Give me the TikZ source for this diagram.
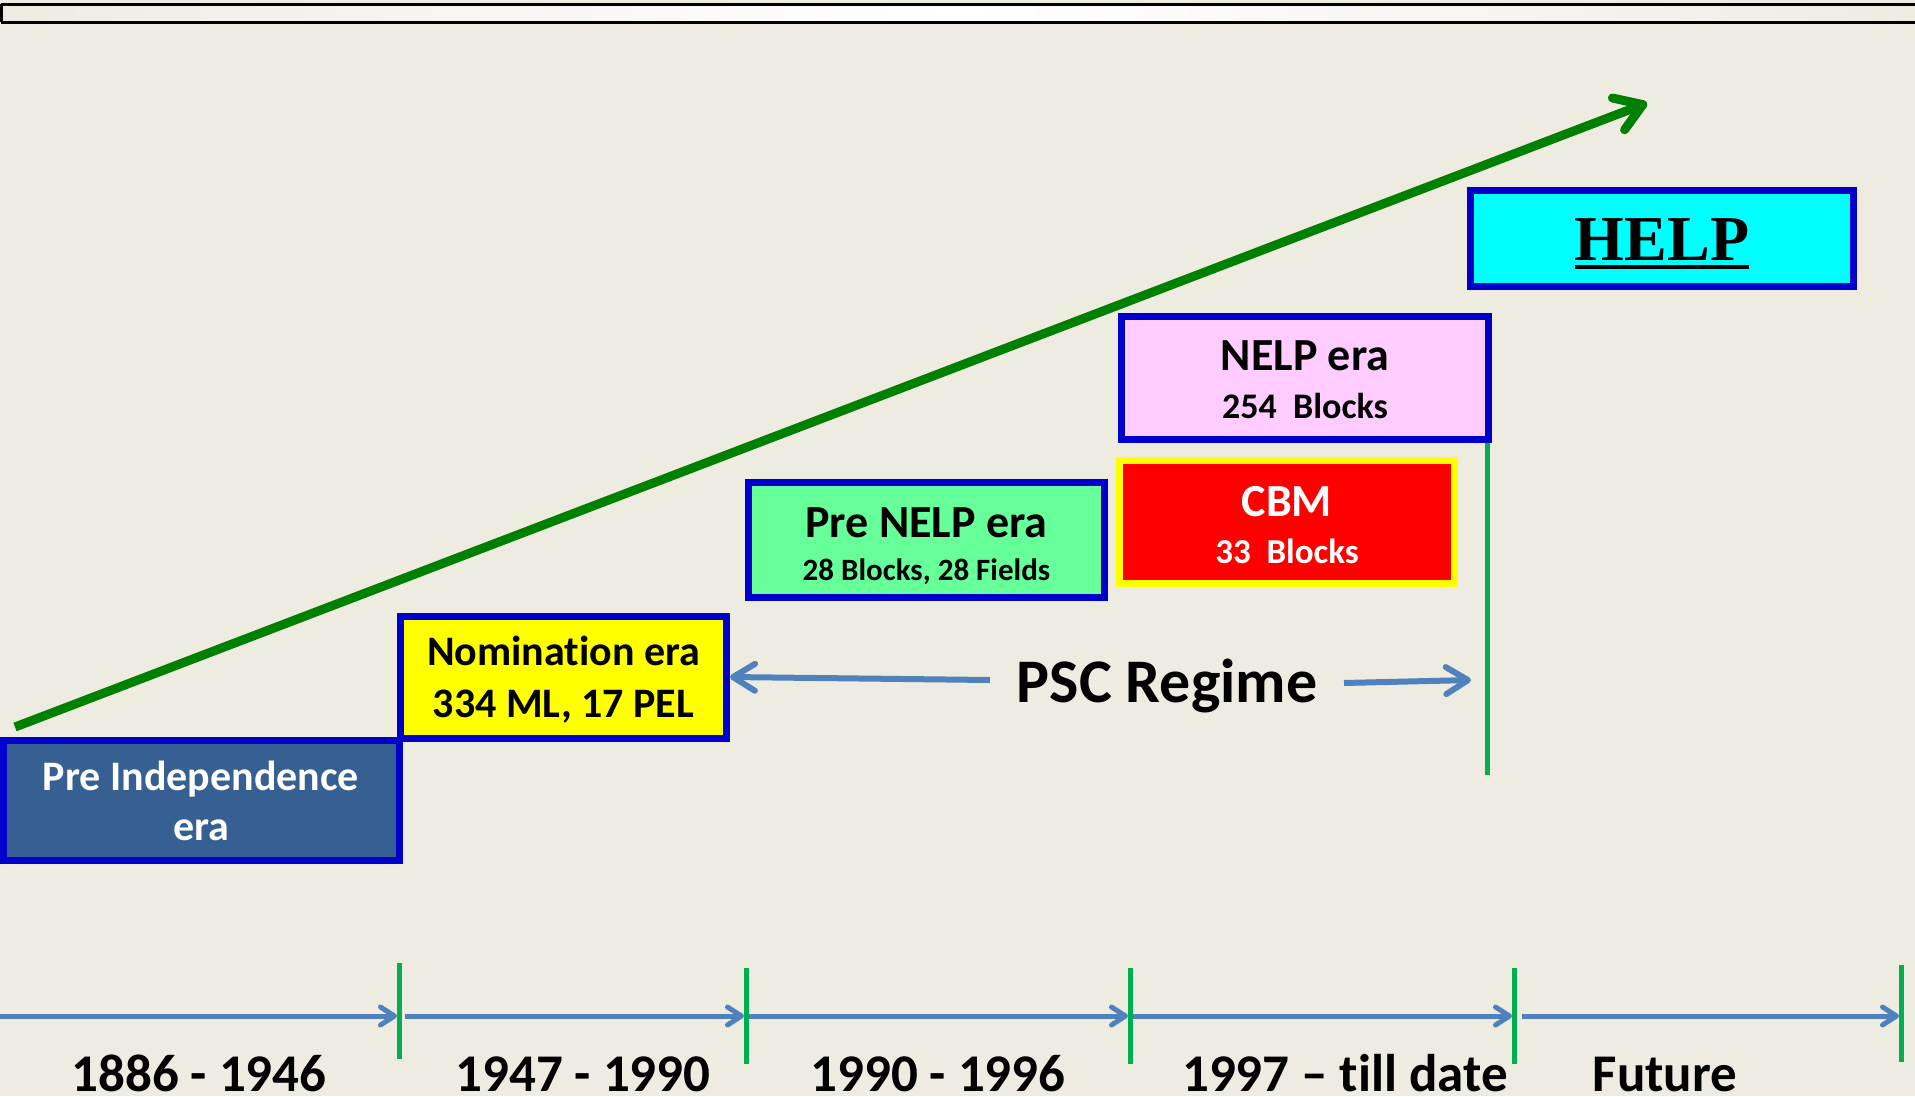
\documentclass[tikz,border=0pt]{standalone}
\usepackage{fontspec}
\setmainfont{Carlito}[Ligatures=NoCommon]
\newfontfamily\helpfont{Liberation Serif}
\usetikzlibrary{arrows.meta}
\definecolor{bg}{HTML}{EEECE1}
\definecolor{boxblue}{HTML}{0000CC}
\definecolor{preind}{HTML}{366092}
\definecolor{nomyellow}{HTML}{FFFF00}
\definecolor{prenelp}{HTML}{66FF99}
\definecolor{cbmred}{HTML}{FF0000}
\definecolor{nelppink}{HTML}{FFCCFF}
\definecolor{helpcyan}{HTML}{00FFFF}
\definecolor{lineblue}{HTML}{4F81BD}
\definecolor{tickgreen}{HTML}{00B050}
\definecolor{arrowgreen}{HTML}{008000}
\begin{document}
\begin{tikzpicture}[x=1pt,y=-1pt,
  box/.style={draw=boxblue, line width=7pt, inner sep=0pt},
  txt/.style={inner sep=0pt, anchor=base},
  tsize/.style={font=\bfseries\fontsize{#1}{#1}\selectfont},
  tline/.style={lineblue, line width=5pt, -{Straight Barb[length=14pt,width=18pt,round]}},
  pscline/.style={lineblue, line width=6pt, -{Straight Barb[length=22pt,width=27pt,round]}},
  tick/.style={tickgreen, line width=5pt}]
\path[use as bounding box] (0,0) rectangle (1915,1096);
\fill[bg] (0,0) rectangle (1915,1096);
% top bar
\shade[left color=bg, right color=bg, middle color=white] (0,4) rectangle (1920,22);
\draw[black, line width=3pt] (1,4) -- (1920,4) (1,22) -- (1920,22) (1,4) -- (1,22);

% big green arrow
\coordinate (gstart) at (15,727);
\coordinate (gend) at (1647,103);
\draw[arrowgreen, line width=9pt, -{Straight Barb[length=26pt,width=34pt,round]}] (gstart) -- (gend);

% boxes
\node[box, fill=preind, minimum width=396pt, minimum height=120pt] (preind) at (201,800.5) {};
\node[txt, tsize=42, text=white] (preindA) at (201,790) {Pre Independence};
\node[txt, tsize=42, text=white] (preindB) at (201,840) {era};

\node[box, fill=nomyellow, minimum width=326pt, minimum height=122pt] (nom) at (563.5,677) {};
\node[txt, tsize=42] (nomA) at (563.5,665) {Nomination era};
\node[txt, tsize=42] (nomB) at (563.5,717) {334 ML, 17 PEL};

\node[box, fill=prenelp, minimum width=356pt, minimum height=115pt] (pnelp) at (926.5,540) {};
\node[txt, tsize=46] (pnelpA) at (926.5,537) {Pre NELP era};
\node[txt, tsize=31] (pnelpB) at (926.5,580) {28 Blocks, 28 Fields};

\node[box, draw=nomyellow, fill=cbmred, minimum width=335pt, minimum height=123pt] (cbm) at (1287,522) {};
\node[txt, tsize=46, text=white] (cbmA) at (1287,516) {CBM};
\node[txt, tsize=35, text=white] (cbmB) at (1287,563) {33~~Blocks};

\node[box, fill=nelppink, minimum width=367pt, minimum height=123pt] (nelp) at (1305,378) {};
\node[txt, tsize=46] (nelpA) at (1305,370) {NELP era};
\node[txt, tsize=36] (nelpB) at (1305,418) {254~~Blocks};

\node[box, fill=helpcyan, minimum width=383pt, minimum height=96pt] (help) at (1662,238.5) {};
\node[txt, font=\helpfont\bfseries\fontsize{64}{64}\selectfont] (helpA) at (1662,260) {HELP};
\draw[black, line width=3.5pt] ([yshift=-7pt]helpA.base west) -- ([yshift=-7pt]helpA.base east);

% green vertical line below NELP
\coordinate (vtop) at (1487,443);
\coordinate (vbot) at (1487,775);
\draw[tick] (vtop) -- (vbot);

% PSC regime
\node[txt, tsize=62] (psc) at (1167,702) {PSC Regime};
\coordinate (pscL) at (990,680);
\coordinate (pscR) at (1344,683);
\coordinate (pscRend) at (1471,680);
\draw[pscline] (pscL) -- (nom.east);
\draw[pscline] (pscR) -- (pscRend);

% timeline
\coordinate (s0) at (0,1016);
\coordinate (a1) at (397,1016);
\coordinate (s1) at (405,1016);
\coordinate (a2) at (744,1016);
\coordinate (s2) at (748,1016);
\coordinate (a3) at (1128,1016);
\coordinate (s3) at (1132,1016);
\coordinate (a4) at (1512,1016);
\coordinate (s4) at (1522,1016);
\coordinate (a5) at (1899,1016);
\draw[tline] (s0) -- (a1);
\draw[tline] (s1) -- (a2);
\draw[tline] (s2) -- (a3);
\draw[tline] (s3) -- (a4);
\draw[tline] (s4) -- (a5);
\coordinate (k1t) at (399,963);  \coordinate (k1b) at (399,1059);
\coordinate (k2t) at (746,968);  \coordinate (k2b) at (746,1064);
\coordinate (k3t) at (1130,968); \coordinate (k3b) at (1130,1064);
\coordinate (k4t) at (1514,968); \coordinate (k4b) at (1514,1064);
\coordinate (k5t) at (1901,965); \coordinate (k5b) at (1901,1062);
\draw[tick] (k1t) -- (k1b);
\draw[tick] (k2t) -- (k2b);
\draw[tick] (k3t) -- (k3b);
\draw[tick] (k4t) -- (k4b);
\draw[tick] (k5t) -- (k5b);

\node[txt, tsize=53] (d1) at (199,1091) {1886 - 1946};
\node[txt, tsize=53] (d2) at (583,1091) {1947 - 1990};
\node[txt, tsize=53] (d3) at (938,1091) {1990 - 1996};
\node[txt, tsize=53] (d4) at (1345,1091) {1997 – till date};
\node[txt, tsize=53] (d5) at (1665,1091) {Future};
\end{tikzpicture}
\end{document}
